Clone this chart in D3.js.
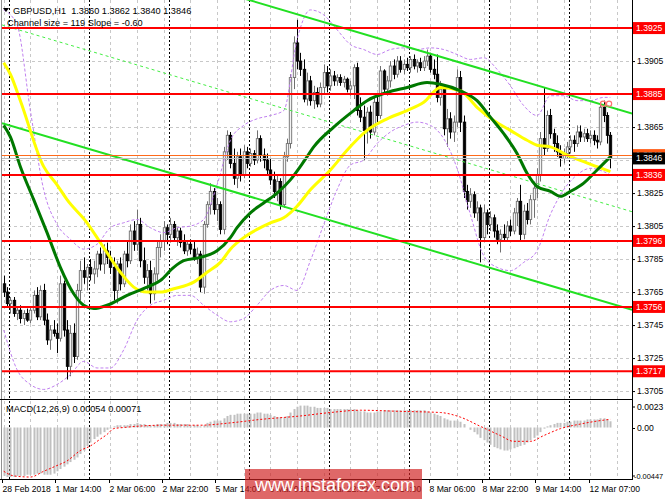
<!DOCTYPE html>
<html><head><meta charset="utf-8">
<script src="https://cdn.jsdelivr.net/npm/d3@7"></script>
<style>body{margin:0;background:#fff;} svg{display:block;font-family:"Liberation Sans",Arial,sans-serif;}</style>
</head><body><svg id="c" width="665" height="499"></svg>
<script>
// ---------------- DATA ----------------
const symbol = "GBPUSD,H1";
const opens = [1.3770,1.3765,1.3758,1.3760,1.3752,1.3754,1.3749,1.3752,1.3748,1.3754,
1.3763,1.3750,1.3766,1.3748,1.3736,1.3742,1.3740,1.3737,1.3770,1.3742,
1.3720,1.3740,1.3726,1.3766,1.3778,1.3774,1.3780,1.3776,1.3779,1.3788,
1.3782,1.3790,1.3786,1.3780,1.3766,1.3782,1.3770,1.3788,1.3784,1.3802,
1.3794,1.3806,1.3784,1.3774,1.3778,1.3764,1.3776,1.3792,1.3796,1.3804,
1.3800,1.3806,1.3798,1.3802,1.3795,1.3790,1.3794,1.3791,1.3786,1.3788,
1.3768,1.3806,1.3818,1.3826,1.3815,1.3818,1.3803,1.3850,1.3860,1.3843,
1.3834,1.3847,1.3836,1.3850,1.3843,1.3849,1.3845,1.3858,1.3848,1.3845,
1.3839,1.3833,1.3826,1.3832,1.3818,1.3847,1.3855,1.3895,1.3916,1.3905,
1.3900,1.3882,1.3893,1.3881,1.3886,1.3879,1.3889,1.3898,1.3890,1.3896,
1.3893,1.3895,1.3892,1.3894,1.3888,1.3890,1.3901,1.3875,1.3871,1.3863,
1.3874,1.3862,1.3880,1.3872,1.3899,1.3888,1.3893,1.3902,1.3897,1.3905,
1.3900,1.3903,1.3901,1.3906,1.3902,1.3904,1.3901,1.3905,1.3908,1.3900,
1.3897,1.3883,1.3888,1.3864,1.3870,1.3862,1.3868,1.3895,1.3868,1.3826,
1.3820,1.3824,1.3813,1.3816,1.3798,1.3813,1.3806,1.3810,1.3802,1.3797,
1.3800,1.3798,1.3805,1.3802,1.3813,1.3820,1.3800,1.3814,1.3809,1.3821,
1.3828,1.3836,1.3858,1.3852,1.3872,1.3861,1.3855,1.3850,1.3846,1.3849,
1.3853,1.3857,1.3855,1.3862,1.3859,1.3861,1.3858,1.3860,1.3857,1.3856,
1.3877,1.3872,1.3860];
const highs = [1.3775,1.3768,1.3762,1.3762,1.3756,1.3757,1.3754,1.3755,1.3756,1.3766,
1.3768,1.3769,1.3770,1.3752,1.3745,1.3748,1.3746,1.3775,1.3772,1.3748,
1.3745,1.3746,1.3770,1.3784,1.3786,1.3782,1.3785,1.3784,1.3790,1.3792,
1.3794,1.3795,1.3790,1.3786,1.3784,1.3786,1.3790,1.3796,1.3806,1.3808,
1.3815,1.3810,1.3792,1.3782,1.3784,1.3780,1.3796,1.3800,1.3808,1.3806,
1.3810,1.3808,1.3804,1.3804,1.3800,1.3796,1.3797,1.3796,1.3792,1.3790,
1.3808,1.3820,1.3831,1.3828,1.3822,1.3820,1.3853,1.3863,1.3862,1.3852,
1.3850,1.3852,1.3854,1.3853,1.3852,1.3851,1.3863,1.3860,1.3852,1.3849,
1.3846,1.3838,1.3836,1.3834,1.3850,1.3858,1.3897,1.3920,1.3930,1.3910,
1.3906,1.3898,1.3896,1.3890,1.3889,1.3892,1.3903,1.3902,1.3900,1.3899,
1.3897,1.3897,1.3896,1.3895,1.3893,1.3903,1.3904,1.3883,1.3878,1.3877,
1.3878,1.3883,1.3884,1.3902,1.3900,1.3896,1.3905,1.3906,1.3908,1.3908,
1.3906,1.3907,1.3908,1.3909,1.3906,1.3907,1.3908,1.3912,1.3910,1.3906,
1.3909,1.3893,1.3890,1.3876,1.3874,1.3872,1.3900,1.3899,1.3872,1.3830,
1.3828,1.3826,1.3820,1.3818,1.3818,1.3815,1.3814,1.3812,1.3806,1.3803,
1.3806,1.3808,1.3809,1.3816,1.3822,1.3830,1.3818,1.3819,1.3824,1.3832,
1.3840,1.3862,1.3889,1.3875,1.3876,1.3864,1.3860,1.3854,1.3852,1.3856,
1.3860,1.3860,1.3866,1.3866,1.3864,1.3864,1.3863,1.3863,1.3860,1.3880,
1.3881,1.3874,1.3862];
const lows = [1.3762,1.3756,1.3752,1.3750,1.3748,1.3746,1.3745,1.3747,1.3746,1.3752,
1.3748,1.3748,1.3745,1.3733,1.3730,1.3738,1.3728,1.3735,1.3738,1.3712,
1.3714,1.3722,1.3724,1.3760,1.3770,1.3766,1.3772,1.3770,1.3774,1.3778,
1.3776,1.3782,1.3776,1.3760,1.3758,1.3766,1.3768,1.3780,1.3782,1.3790,
1.3790,1.3780,1.3770,1.3766,1.3758,1.3760,1.3772,1.3786,1.3790,1.3794,
1.3795,1.3796,1.3793,1.3792,1.3788,1.3787,1.3788,1.3784,1.3782,1.3765,
1.3764,1.3804,1.3812,1.3812,1.3808,1.3800,1.3800,1.3845,1.3840,1.3830,
1.3828,1.3832,1.3834,1.3840,1.3841,1.3842,1.3843,1.3844,1.3840,1.3836,
1.3830,1.3822,1.3820,1.3815,1.3816,1.3844,1.3852,1.3888,1.3900,1.3896,
1.3880,1.3878,1.3878,1.3876,1.3877,1.3877,1.3885,1.3886,1.3887,1.3890,
1.3890,1.3890,1.3889,1.3886,1.3884,1.3882,1.3872,1.3868,1.3845,1.3855,
1.3858,1.3860,1.3868,1.3870,1.3885,1.3884,1.3889,1.3894,1.3895,1.3898,
1.3897,1.3899,1.3898,1.3900,1.3898,1.3899,1.3899,1.3902,1.3898,1.3894,
1.3880,1.3878,1.3860,1.3853,1.3858,1.3856,1.3865,1.3862,1.3822,1.3815,
1.3816,1.3810,1.3808,1.3783,1.3796,1.3800,1.3802,1.3798,1.3794,1.3789,
1.3796,1.3796,1.3799,1.3800,1.3805,1.3796,1.3797,1.3806,1.3806,1.3810,
1.3822,1.3832,1.3848,1.3850,1.3858,1.3850,1.3847,1.3841,1.3843,1.3846,
1.3849,1.3850,1.3853,1.3856,1.3856,1.3856,1.3855,1.3854,1.3852,1.3854,
1.3868,1.3855,1.3840];
const closes = [1.3765,1.3758,1.3760,1.3752,1.3754,1.3749,1.3752,1.3748,1.3754,1.3763,
1.3750,1.3766,1.3748,1.3736,1.3742,1.3740,1.3737,1.3770,1.3742,1.3720,
1.3740,1.3726,1.3766,1.3778,1.3774,1.3780,1.3776,1.3779,1.3788,1.3782,
1.3790,1.3786,1.3780,1.3766,1.3782,1.3770,1.3788,1.3784,1.3802,1.3794,
1.3806,1.3784,1.3774,1.3778,1.3764,1.3776,1.3792,1.3796,1.3804,1.3800,
1.3806,1.3798,1.3802,1.3795,1.3790,1.3794,1.3791,1.3786,1.3788,1.3768,
1.3806,1.3818,1.3826,1.3815,1.3818,1.3803,1.3850,1.3860,1.3843,1.3834,
1.3847,1.3836,1.3850,1.3843,1.3849,1.3845,1.3858,1.3848,1.3845,1.3839,
1.3833,1.3826,1.3832,1.3818,1.3847,1.3855,1.3895,1.3916,1.3905,1.3900,
1.3882,1.3893,1.3881,1.3886,1.3879,1.3889,1.3898,1.3890,1.3896,1.3893,
1.3895,1.3892,1.3894,1.3888,1.3890,1.3901,1.3875,1.3871,1.3863,1.3874,
1.3862,1.3880,1.3872,1.3899,1.3888,1.3893,1.3902,1.3897,1.3905,1.3900,
1.3903,1.3901,1.3906,1.3902,1.3904,1.3901,1.3905,1.3908,1.3900,1.3897,
1.3883,1.3888,1.3864,1.3870,1.3862,1.3868,1.3895,1.3868,1.3826,1.3820,
1.3824,1.3813,1.3816,1.3798,1.3813,1.3806,1.3810,1.3802,1.3797,1.3800,
1.3798,1.3805,1.3802,1.3813,1.3820,1.3800,1.3814,1.3809,1.3821,1.3828,
1.3836,1.3858,1.3852,1.3872,1.3861,1.3855,1.3850,1.3846,1.3849,1.3853,
1.3857,1.3855,1.3862,1.3859,1.3861,1.3858,1.3860,1.3857,1.3856,1.3877,
1.3872,1.3860,1.3846];

// moving averages (sampled at bar indices)
const maGreenIdx = [0,2,5,9,13,17,21,24,27,31,37,43,47,51,54,59,64,68,70,74,78,82,86,90,93,99,105,109,115,121,127,131,137,142,146,150,154,157,160,164,167,170,174,178,182];
const maGreenVal = [1.3866,1.3859,1.3841,1.3821,1.3801,1.3780,1.3764,1.3757,1.3755,1.3757,1.3763,1.3768,1.3772,1.3780,1.3784,1.3786,1.3790,1.3798,1.3804,1.3813,1.3819,1.3825,1.3833,1.3844,1.3853,1.3865,1.3875,1.3881,1.3886,1.3889,1.3892,1.3891,1.3887,1.3881,1.3871,1.3861,1.3849,1.3837,1.3829,1.3826,1.3823,1.3826,1.3831,1.3839,1.3847];
const maYellowIdx = [0,2,5,12,16,19,25,29,35,39,43,47,51,57,61,65,68,72,76,80,84,88,92,98,103,109,115,121,126,131,137,142,147,152,157,160,164,169,174,178,182];
const maYellowVal = [1.3904,1.3897,1.3881,1.3841,1.3830,1.3821,1.3807,1.3795,1.3777,1.3768,1.3765,1.3765,1.3767,1.3771,1.3777,1.3783,1.3791,1.3798,1.3803,1.3807,1.3810,1.3817,1.3827,1.3839,1.3851,1.3863,1.3870,1.3875,1.3880,1.3889,1.3887,1.3877,1.3869,1.3863,1.3857,1.3854,1.3853,1.3848,1.3844,1.3841,1.3838];
// bands
const bbIdx = [0,4,8,12,16,20,24,28,32,36,40,44,48,52,56,60,64,68,72,76,80,84,88,92,96,100,104,108,112,116,120,124,128,132,136,140,144,148,152,156,160,164,168,172,176,180,182];
const bbUpper = [1.3936,1.3927,1.3875,1.3827,1.3806,1.3797,1.3791,1.3794,1.3804,1.3807,1.3809,1.3804,1.3801,1.3804,1.3805,1.3809,1.3830,1.3857,1.3866,1.3870,1.3872,1.3875,1.3918,1.3936,1.3933,1.3924,1.3915,1.3912,1.3909,1.3912,1.3913,1.3912,1.3913,1.3912,1.3909,1.3906,1.3907,1.3900,1.3890,1.3878,1.3872,1.3884,1.3884,1.3881,1.3881,1.3883,1.3883];
const bbLower = [1.3742,1.3718,1.3709,1.3706,1.3709,1.3715,1.3723,1.3719,1.3719,1.3730,1.3748,1.3757,1.3760,1.3763,1.3763,1.3757,1.3751,1.3747,1.3749,1.3757,1.3766,1.3769,1.3766,1.3784,1.3806,1.3827,1.3842,1.3845,1.3855,1.3862,1.3866,1.3868,1.3866,1.3858,1.3840,1.3812,1.3787,1.3780,1.3778,1.3783,1.3790,1.3812,1.3827,1.3836,1.3840,1.3838,1.3836];
// regression channel (endpoints, bar index)
const channelIdx = [-0.5, 188.5];
const channelUpper = [1.39864, 1.38732];
const channelMid = [1.39269, 1.38137];
const channelLower = [1.38674, 1.37542];
const channelSize = 119, channelSlope = -0.60;
// horizontal levels
const levels = [1.3925, 1.3885, 1.3836, 1.3796, 1.3756, 1.3717];
const askPrice = 1.3848, bidPrice = 1.3846;
const priceTicks = [1.3925,1.3905,1.3885,1.3865,1.3845,1.3825,1.3805,1.3785,1.3765,1.3745,1.3725,1.3705];
// MACD
const macdHist = [-0.0042,-0.0043,-0.0043,-0.0043,-0.0042,-0.0042,-0.0042,-0.0041,-0.0041,-0.0041,-0.0040,-0.0040,-0.0041,-0.0041,
-0.0041,-0.0040,-0.0038,-0.0036,-0.0034,-0.0032,-0.0030,-0.0028,-0.0026,-0.0023,-0.0020,-0.0016,-0.0013,-0.0010,-0.0008,-0.0006,-0.0004,-0.0002,-0.0001,
0.0001,0.0002,0.0002,0.0002,0.0002,0.0003,0.0003,0.0004,0.0003,0.0003,0.0002,0.0002,0.0002,0.0003,0.0003,0.0003,0.0004,0.0004,0.0004,0.0003,0.0003,0.0003,0.0003,0.0002,0.0002,0.0002,0.0001,
0.0002,0.0004,0.0005,0.0006,0.0006,0.0006,0.0008,
0.0010,0.0011,0.0011,0.0012,0.0012,0.0012,
0.0012,0.0012,0.0012,0.0013,0.0013,0.0012,0.0012,0.0011,0.0010,0.0009,0.0009,0.0009,0.0010,
0.0013,0.0016,0.0018,0.0019,0.0019,0.0019,0.0018,0.0018,0.0017,0.0017,0.0017,0.0017,
0.0016,0.0016,0.0016,0.0016,0.0016,0.0016,0.0016,0.0016,0.0015,0.0014,0.0014,0.0013,0.0013,0.0013,0.0014,0.0014,0.0015,0.0015,0.0015,0.0015,0.0015,0.0015,0.0015,0.0015,0.0015,0.0015,0.0015,0.0015,0.0015,0.0014,0.0013,0.0012,0.0011,0.0010,
0.0008,0.0007,0.0006,0.0006,0.0006,0.0005,0.0003,0.0000,-0.0002,
-0.0004,-0.0006,-0.0009,-0.0011,-0.0013,-0.0015,-0.0017,-0.0018,-0.0019,-0.0020,-0.0020,-0.0019,-0.0018,-0.0017,-0.0016,-0.0015,-0.0013,-0.0011,
-0.0009,-0.0007,-0.0004,-0.0001,0.0001,0.0002,0.0003,0.0004,
0.0004,0.0004,0.0005,0.0005,0.0006,0.0006,0.0006,0.0006,0.0007,0.0007,0.0007,0.0007,0.0008,0.0008,0.0007,0.00054];
const signalIdx = [0,3,8,12,16,19,23,26,29,31,33,36,48,59,68,77,89,98,107,119,131,137,143,149,153,158,162,167,173,179,182];
const signalVal = [-0.0038,-0.0042,-0.0043,-0.0038,-0.0033,-0.0029,-0.0020,-0.0016,-0.0010,-0.0006,-0.0001,0.0000,0.0002,0.0002,0.0004,0.0007,0.0010,0.0013,0.0015,0.0014,0.0013,0.0009,0.0001,-0.0007,-0.0012,-0.0012,-0.0007,-0.0001,0.0003,0.0006,0.00071];
const macdTicks = [0.0023, 0.0, -0.00447];
const macdTickText = ['0.0023', '0.00', '-0.00447'];
// time axis
const timeLabels = ["28 Feb 2018","1 Mar 14:00","2 Mar 06:00","2 Mar 22:00","5 Mar 14:00","6 Mar 06:00","6 Mar 22:00","7 Mar 14:00","8 Mar 06:00","8 Mar 22:00","9 Mar 14:00","12 Mar 07:00"];
const timeLabelIdx = [0,16,32,48,64,80,96,112,128,144,160,176];
const daySepIdx = [2,26,50,74,98,122,146,170];

// ---------------- DRAW ----------------
const svg = d3.select('#c');
const L = 2, R = 632, mTop = 0, mBot = 399, dTop = 401, dBot = 479;
const n = closes.length;
const x = d3.scaleLinear().domain([0, 182]).range([3.7, 610.4]);
const y = d3.scaleLinear().domain([1.37008, 1.39408]).range([398, 2]);
const ym = d3.scaleLinear().domain([-0.00447, 0.0023]).range([479, 401]);
const half = (x(1) - x(0)) / 2;
const FONT = '"Liberation Sans",Arial,sans-serif';

const defs = svg.append('defs');
defs.append('clipPath').attr('id','cm').append('rect').attr('x',L).attr('y',mTop).attr('width',R-L).attr('height',mBot-mTop);
defs.append('clipPath').attr('id','cd').append('rect').attr('x',L).attr('y',dTop).attr('width',R-L).attr('height',dBot-dTop);

const gM = svg.append('g').attr('clip-path','url(#cm)');
const gD = svg.append('g').attr('clip-path','url(#cd)');

// grid
const gridIdx = d3.range(0, 190, 8);
[gM, gD].forEach((g, k) => {
  g.selectAll('line.vg').data(gridIdx).enter().append('line')
    .attr('x1', d => Math.round(x(d)) + 0.5).attr('x2', d => Math.round(x(d)) + 0.5)
    .attr('y1', k ? dTop : mTop).attr('y2', k ? dBot : mBot)
    .attr('stroke', '#c8c8c8').attr('stroke-dasharray', '3,3');
});
gM.selectAll('line.hg').data(priceTicks).enter().append('line')
  .attr('x1', L).attr('x2', R)
  .attr('y1', d => Math.round(y(d)) + 0.5).attr('y2', d => Math.round(y(d)) + 0.5)
  .attr('stroke', '#c8c8c8').attr('stroke-dasharray', '3,3');
// day separators
[gM, gD].forEach((g, k) => {
  g.selectAll('line.sep').data(daySepIdx).enter().append('line')
    .attr('x1', d => Math.round(x(d) - half) + 0.5).attr('x2', d => Math.round(x(d) - half) + 0.5)
    .attr('y1', k ? dTop : mTop).attr('y2', k ? dBot : mBot)
    .attr('stroke', '#000').attr('stroke-dasharray', '2,2');
});

// candles
const bars = d3.range(n).map(i => ({i, o: opens[i], h: highs[i], l: lows[i], c: closes[i]}));
const cg = gM.append('g');
cg.selectAll('line.w').data(bars).enter().append('line')
  .attr('x1', d => Math.round(x(d.i)) + 0.5).attr('x2', d => Math.round(x(d.i)) + 0.5)
  .attr('y1', d => y(d.h)).attr('y2', d => y(d.l))
  .attr('stroke', d => d.c >= d.o ? '#707070' : '#000').attr('stroke-width', 1);
cg.selectAll('rect.b').data(bars).enter().append('rect')
  .attr('x', d => Math.round(x(d.i)) - 0.7).attr('width', 2.4)
  .attr('y', d => y(Math.max(d.o, d.c))).attr('height', d => Math.max(1, Math.abs(y(d.o) - y(d.c))))
  .attr('fill', d => d.c >= d.o ? '#f4f4f4' : '#000')
  .attr('stroke', d => d.c >= d.o ? '#707070' : '#000').attr('stroke-width', 0.9);

// bands
const lineIdx = (idx, vals, sc) => d3.line().x((d, k) => x(idx[k])).y(d => sc(d)).curve(d3.curveMonotoneX)(vals);
[bbUpper, bbLower].forEach(v => {
  gM.append('path').attr('d', lineIdx(bbIdx, v, y)).attr('fill', 'none')
    .attr('stroke', '#c080f0').attr('stroke-width', 1).attr('stroke-dasharray', '3,2');
});
// channel
gM.append('path').attr('d', lineIdx(channelIdx, channelMid, y)).attr('fill','none')
  .attr('stroke', '#44ee44').attr('stroke-width', 1).attr('stroke-dasharray', '3,3');
[channelUpper, channelLower].forEach(v => {
  gM.append('path').attr('d', lineIdx(channelIdx, v, y)).attr('fill','none')
    .attr('stroke', '#22e022').attr('stroke-width', 2);
});
// MAs
gM.append('path').attr('d', lineIdx(maYellowIdx, maYellowVal, y)).attr('fill','none')
  .attr('stroke', '#ffff00').attr('stroke-width', 3);
gM.append('path').attr('d', lineIdx(maGreenIdx, maGreenVal, y)).attr('fill','none')
  .attr('stroke', '#007800').attr('stroke-width', 3);

// levels
gM.selectAll('line.lv').data(levels).enter().append('line')
  .attr('x1', L).attr('x2', R).attr('y1', d => y(d)).attr('y2', d => y(d))
  .attr('stroke', '#ff0000').attr('stroke-width', 2);
gM.append('line').attr('x1', L).attr('x2', R).attr('y1', Math.round(y(askPrice)) + 0.5).attr('y2', Math.round(y(askPrice)) + 0.5)
  .attr('stroke', '#ff6a1a').attr('stroke-width', 1);
gM.append('line').attr('x1', L).attr('x2', R).attr('y1', Math.round(y(bidPrice)) + 0.5).attr('y2', Math.round(y(bidPrice)) + 0.5)
  .attr('stroke', '#bdbdbd').attr('stroke-width', 1);

// alert icons near last highs
[179.8, 181.6].forEach(i => {
  gM.append('circle').attr('cx', x(i)).attr('cy', y(highs[180]) + 3).attr('r', 2.6)
    .attr('fill', 'none').attr('stroke', '#ff7070').attr('stroke-width', 1.2);
});

// MACD
gD.selectAll('rect.h').data(macdHist).enter().append('rect')
  .attr('x', (d, i) => Math.round(x(i)) - 0.5).attr('width', 2)
  .attr('y', d => Math.min(ym(0), ym(d))).attr('height', d => Math.abs(ym(d) - ym(0)))
  .attr('fill', '#c0c0c0');
gD.append('path').attr('d', lineIdx(signalIdx, signalVal, ym)).attr('fill','none')
  .attr('stroke', '#ff0000').attr('stroke-width', 1).attr('stroke-dasharray', '2,2');

// frames
svg.append('line').attr('x1', 1.5).attr('x2', 1.5).attr('y1', 0).attr('y2', dBot).attr('stroke', '#909090');
svg.append('line').attr('x1', R + 0.5).attr('x2', R + 0.5).attr('y1', 0).attr('y2', dBot + 1).attr('stroke', '#000');
svg.append('line').attr('x1', 0).attr('x2', R).attr('y1', mBot + 0.5).attr('y2', mBot + 0.5).attr('stroke', '#000');
svg.append('line').attr('x1', 0).attr('x2', R).attr('y1', dBot + 0.5).attr('y2', dBot + 0.5).attr('stroke', '#000');

// right price axis
const fs = 8.6;
const ax = svg.append('g').attr('transform', `translate(${R},0)`)
  .call(d3.axisRight(y).tickValues(priceTicks).tickSize(3).tickPadding(2).tickFormat(d3.format('.4f')));
ax.select('.domain').remove();
ax.selectAll('text').attr('font-size', fs).attr('font-family', FONT).attr('fill', '#000');
ax.selectAll('line').attr('stroke', '#000');

function box(val, fill, txt) {
  const g = svg.append('g').attr('transform', `translate(${R + 1},${y(val)})`);
  g.append('rect').attr('x', 0).attr('y', -6).attr('width', 32).attr('height', 12).attr('fill', fill);
  g.append('text').attr('x', 3).attr('y', 3).attr('font-size', fs).attr('fill', txt).text(d3.format('.4f')(val));
}
levels.forEach(v => box(v, '#ff0000', '#fff'));
box(askPrice, '#ff5a14', '#fff');
box(bidPrice, '#000', '#fff');

// MACD axis
const mTickPos = [ym(macdTicks[0]) + 6, ym(macdTicks[1]) + 1, ym(macdTicks[2]) - 3];
macdTicks.forEach((v, k) => {
  svg.append('line').attr('x1', R).attr('x2', R + 3).attr('y1', mTickPos[k]).attr('y2', mTickPos[k]).attr('stroke', '#000');
  svg.append('text').attr('x', k === 2 ? R + 2 : R + 5).attr('y', mTickPos[k] + 3)
    .attr('font-size', k === 2 ? 7.4 : fs).text(macdTickText[k]);
});

// time axis
timeLabelIdx.forEach((b, k) => {
  const xx = Math.round(x(b) - half) + 0.5;
  svg.append('line').attr('x1', xx).attr('x2', xx).attr('y1', dBot).attr('y2', dBot + 4).attr('stroke', '#000');
  svg.append('text').attr('x', xx).attr('y', 492).attr('font-size', fs).text(timeLabels[k]);
});

// headers
svg.append('path').attr('d', 'M3,8 L9,8 L6,12 Z').attr('fill', '#000');
svg.append('text').attr('x', 13).attr('y', 14).attr('font-size', 9.2).attr('xml:space', 'preserve')
  .text(`${symbol}  ${d3.format('.4f')(opens[n-1])} ${d3.format('.4f')(highs[n-1])} ${d3.format('.4f')(lows[n-1])} ${d3.format('.4f')(closes[n-1])}`);
svg.append('text').attr('x', 7).attr('y', 26).attr('font-size', 9.2)
  .text(`Channel size = ${channelSize} Slope = ${channelSlope.toFixed(2)}`);
svg.append('text').attr('x', 6).attr('y', 412).attr('font-size', 9.2)
  .text(`MACD(12,26,9) ${macdHist[n-1].toFixed(5)} ${signalVal[signalVal.length-1].toFixed(5)}`);

// watermark
svg.append('rect').attr('x', 245).attr('y', 469).attr('width', 177).attr('height', 30)
  .attr('fill', '#d02020').attr('opacity', 0.68);
svg.append('text').attr('x', 255).attr('y', 491).attr('font-size', 18).attr('fill', '#fff')
  .text('www.instaforex.com');
</script>
</body></html>
